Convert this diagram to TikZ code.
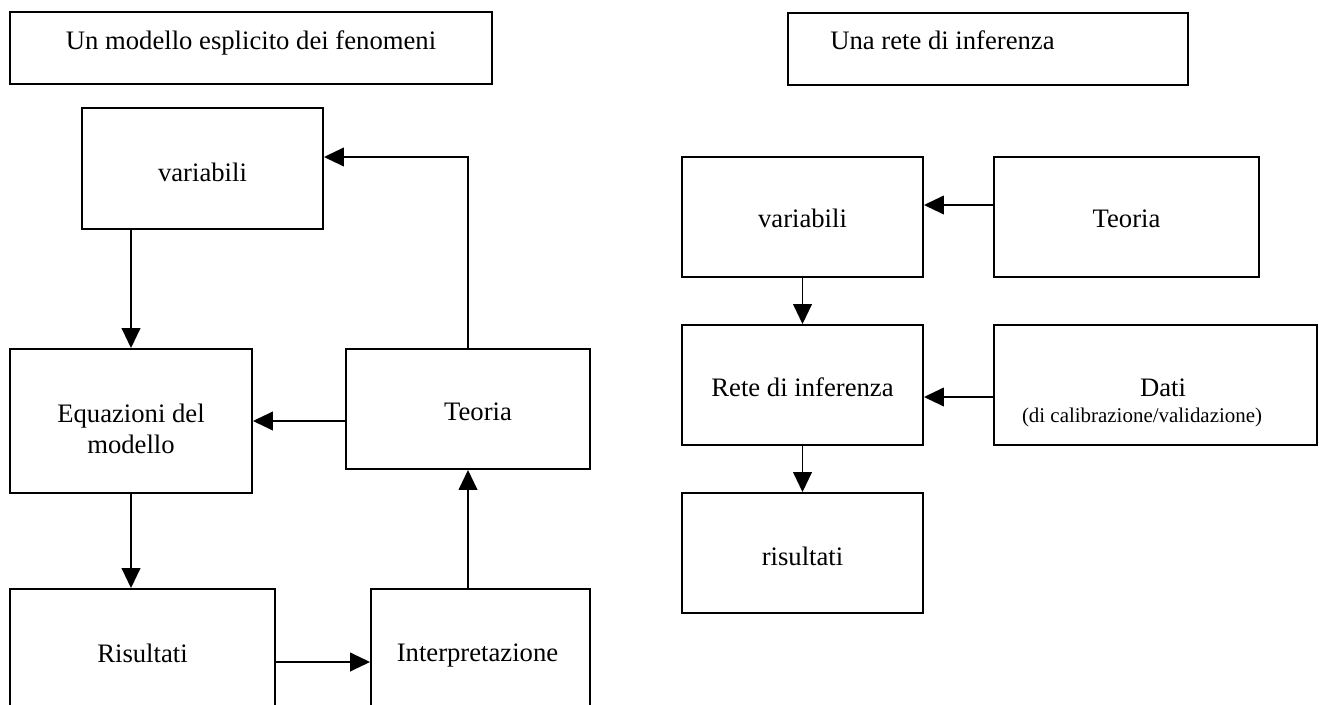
\documentclass[tikz,border=0pt]{standalone}
\usepackage{fontspec}
\setmainfont{Liberation Serif}
\usetikzlibrary{arrows.meta,fit,calc}
\begin{document}
\begin{tikzpicture}[x=0.75pt,y=-0.75pt,
  box/.style={draw,line width=1.4pt,inner sep=0pt},
  lbl/.style={font=\fontsize{20}{23.25}\selectfont,anchor=base,inner sep=0pt},
  small/.style={font=\fontsize{15.7}{18}\selectfont,anchor=base,inner sep=0pt},
  arr/.style={line width=1.4pt,-{Triangle[length=15pt,width=14pt]}}]
\useasboundingbox (0,0) rectangle (1319,705);
\clip (0,0) rectangle (1319,705);

% ---- left panel: explicit model ----
\node[box,fit={(10,12)(492,84)}] (t1) {};
\node[lbl] (t1txt) at (251,50) {Un modello esplicito dei fenomeni};

\node[box,fit={(82,108)(323,229)}] (lvar) {};
\node[lbl] (lvartxt) at (202.5,182) {variabili};

\node[box,fit={(10,349)(252,493)}] (leq) {};
\node[lbl] (leqa) at (131,422) {Equazioni del};
\node[lbl] (leqb) at (131,453) {modello};

\node[box,fit={(346,349)(590,469)}] (lteo) {};
\node[lbl] (lteotxt) at (478,421) {Teoria};

\node[box,fit={(10,589)(275,735)}] (lris) {};
\node[lbl] (lristxt) at (142.5,662) {Risultati};

\node[box,fit={(371,589)(590,735)}] (lint) {};
\node[lbl] (linttxt) at (477.5,661) {Interpretazione};

\draw[arr] (lvar.south -| leq.north) -- (leq.north);
\draw[arr] (leq.south) -- (leq.south |- lris.north);
\draw[arr] (lris.east) -- (lris.east -| lint.west);
\draw[arr] (lint.north -| lteo.south) -- (lteo.south);
\draw[arr] (lteo.west |- leq.east) -- (leq.east);
\draw[arr] (lteo.north) |- ($(lvar.east)+(0,-11.5)$);

% ---- right panel: inference network ----
\node[box,fit={(788,13)(1188,85)}] (t2) {};
\node[lbl,anchor=base west] (t2txt) at (830,50) {Una rete di inferenza};

\node[box,fit={(682,157)(923,277)}] (rvar) {};
\node[lbl] (rvartxt) at (802.5,228) {variabili};

\node[box,fit={(994,157)(1259,277)}] (rteo) {};
\node[lbl] (rteotxt) at (1126.5,228) {Teoria};

\node[box,fit={(682,325)(923,445)}] (rnet) {};
\node[lbl] (rnettxt) at (802.5,397) {Rete di inferenza};

\node[box,fit={(994,325)(1317,445)}] (rdat) {};
\node[lbl] (rdattxt) at (1163,397) {Dati};
\node[small] (rdatsub) at (1142,422) {(di calibrazione/validazione)};

\node[box,fit={(682,493)(923,613)}] (rris) {};
\node[lbl] (rristxt) at (802.5,565) {risultati};

\draw[arr] ($(rteo.west)+(0,-12)$) -- ($(rvar.east)+(0,-12)$);
\draw[arr] (rvar.south) -- (rnet.north);
\draw[arr] ($(rdat.west)+(0,12)$) -- ($(rnet.east)+(0,12)$);
\draw[arr] (rnet.south) -- (rris.north);
\end{tikzpicture}
\end{document}
